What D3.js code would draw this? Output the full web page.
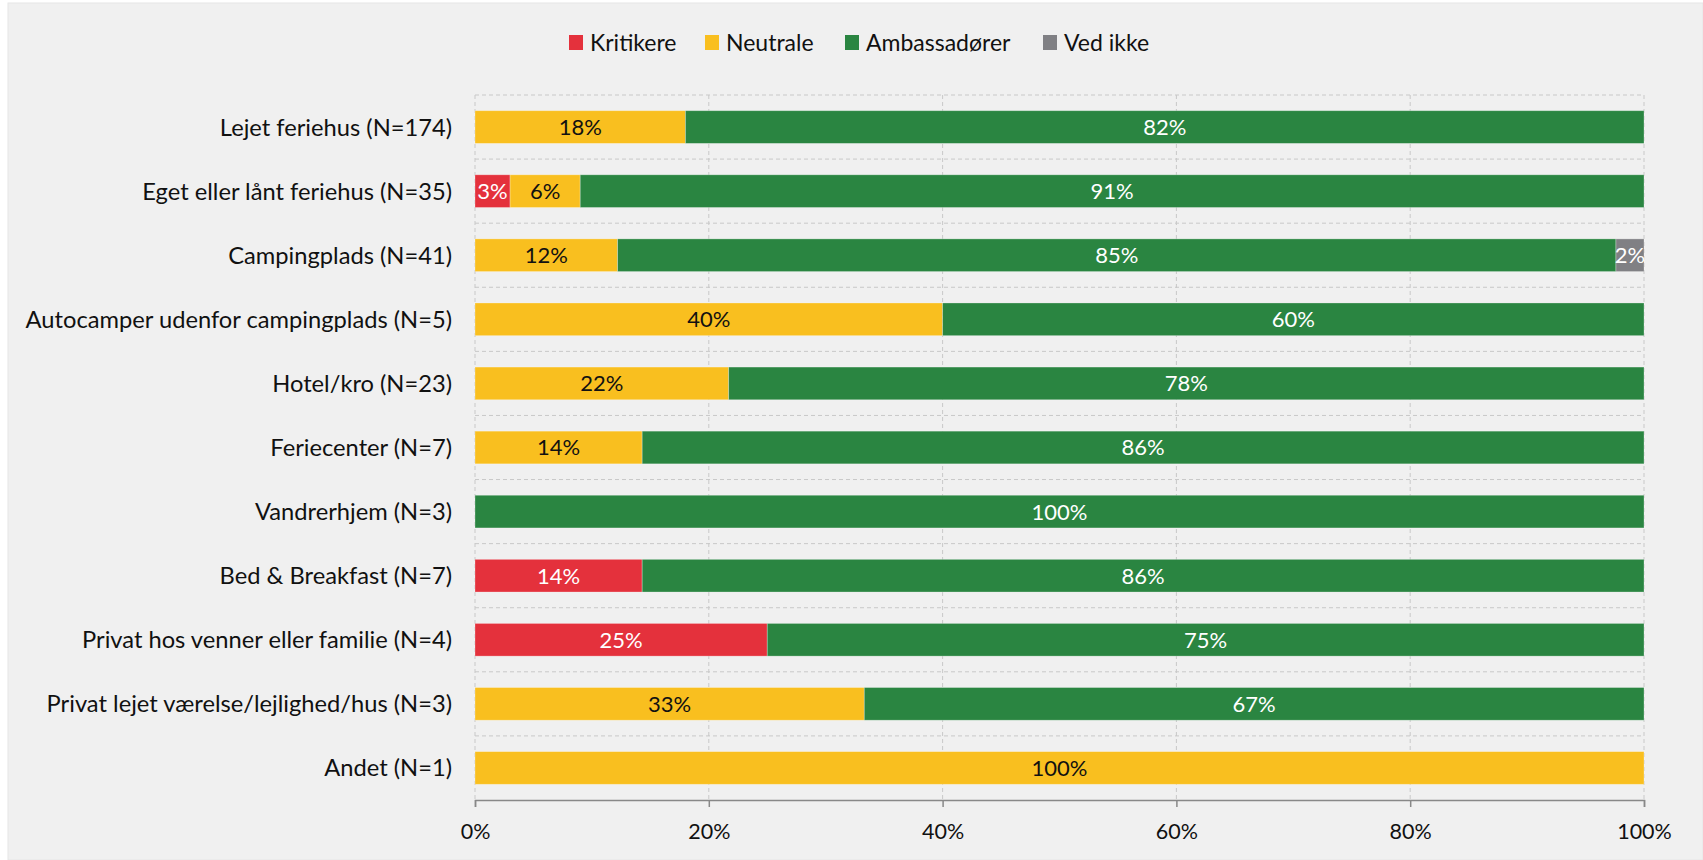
<!DOCTYPE html>
<html><head><meta charset="utf-8">
<script src="https://cdn.jsdelivr.net/npm/d3@7"></script>
<style>body{margin:0;background:#fff;}svg{display:block;}text{font-family:Lato,"Open Sans",sans-serif;}</style>
</head><body><svg id="c" width="1703" height="860"></svg>
<script>
const categories = ["Lejet feriehus (N=174)","Eget eller lånt feriehus (N=35)","Campingplads (N=41)","Autocamper udenfor campingplads (N=5)","Hotel/kro (N=23)","Feriecenter (N=7)","Vandrerhjem (N=3)","Bed & Breakfast (N=7)","Privat hos venner eller familie (N=4)","Privat lejet værelse/lejlighed/hus (N=3)","Andet (N=1)"];
const seriesNames = ["Kritikere","Neutrale","Ambassadører","Ved ikke"];
const kritikere    = [0, 3, 0, 0, 0, 0, 0, 14.3, 25, 0, 0];
const neutrale     = [18, 6, 12.2, 40, 21.7, 14.3, 0, 0, 0, 33.3, 100];
const ambassadorer = [82, 91, 85.4, 60, 78.3, 85.7, 100, 85.7, 75, 66.7, 0];
const vedIkke      = [0, 0, 2.4, 0, 0, 0, 0, 0, 0, 0, 0];
const tickValues = [0, 20, 40, 60, 80, 100];
const colors = ["#e4313c","#f9bf1f","#2a8541","#808084"];
const labelColors = ["#fff","#111","#fff","#fff"];

const series = [kritikere, neutrale, ambassadorer, vedIkke];
const rows = categories.map((c,i)=>{const o={cat:c}; seriesNames.forEach((s,j)=>o[s]=series[j][i]); return o;});
const stacked = d3.stack().keys(seriesNames)(rows);

const svg = d3.select("#c");
svg.append("rect").attr("x",8).attr("y",3).attr("width",1695).attr("height",857).attr("fill","#f0f0f0").attr("stroke","#e6e6e6");

const L=475, R=1644, T=95, B=800;
const x = d3.scaleLinear().domain([0,100]).range([L,R]);
const y = d3.scaleBand().domain(categories).range([T,B]).paddingInner(0.49).paddingOuter(0.245);

const grid = svg.append("g");
grid.selectAll("line.v").data(tickValues).join("line")
  .attr("x1",d=>x(d)).attr("x2",d=>x(d)).attr("y1",T).attr("y2",B)
  .attr("stroke","#c8c8c8").attr("stroke-dasharray","4,3").attr("stroke-width",1);
const bounds = categories.map((c,i)=>T+i*(B-T)/categories.length);
grid.selectAll("line.h").data(bounds).join("line")
  .attr("x1",L).attr("x2",R).attr("y1",d=>d).attr("y2",d=>d)
  .attr("stroke","#c8c8c8").attr("stroke-dasharray","4,3").attr("stroke-width",1);

const g = svg.append("g");
stacked.forEach((s,si)=>{
  g.selectAll("rect.s"+si).data(s.filter(d=>d[1]-d[0]>0)).join("rect")
    .attr("x",d=>x(d[0])).attr("width",d=>x(d[1])-x(d[0]))
    .attr("y",d=>y(d.data.cat)).attr("height",y.bandwidth())
    .attr("fill",colors[si]).attr("stroke","rgba(255,255,255,0.35)").attr("stroke-width",0.8);
  g.selectAll("text.s"+si).data(s.filter(d=>d[1]-d[0]>0)).join("text")
    .attr("x",d=>(x(d[0])+x(d[1]))/2).attr("y",d=>y(d.data.cat)+y.bandwidth()/2)
    .attr("dy","0.36em").attr("text-anchor","middle").attr("font-size",22)
    .attr("fill",labelColors[si]).text(d=>d3.format(".0f")(d[1]-d[0])+"%");
});

svg.append("g").selectAll("text").data(categories).join("text")
  .attr("x",L-23).attr("y",d=>y(d)+y.bandwidth()/2).attr("dy","0.36em")
  .attr("text-anchor","end").attr("font-size",23.7).attr("fill","#111").text(d=>d);

const ax = svg.append("g").attr("transform",`translate(0,${B})`)
  .call(d3.axisBottom(x).tickValues(tickValues).tickFormat(d=>d+"%").tickSize(7).tickPadding(17));
ax.select(".domain").attr("stroke","#888").attr("stroke-width",1.5);
ax.selectAll(".tick line").attr("stroke","#888").attr("stroke-width",1.5);
ax.selectAll(".tick text").attr("font-size",21.5).attr("fill","#111").attr("font-family","Lato,'Open Sans',sans-serif");

const legX = [569, 705, 845, 1043];
const leg = svg.append("g");
seriesNames.forEach((s,i)=>{
  leg.append("rect").attr("x",legX[i]).attr("y",35).attr("width",14).attr("height",15).attr("fill",colors[i]);
  leg.append("text").attr("x",legX[i]+21).attr("y",42.5).attr("dy","0.36em").attr("font-size",23).attr("fill","#111").text(s);
});
</script></body></html>
